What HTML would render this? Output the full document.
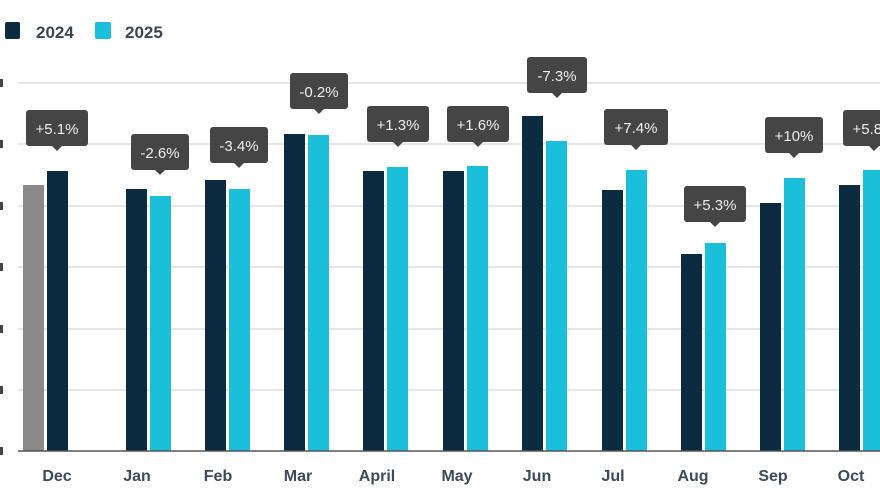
<!DOCTYPE html>
<html><head><meta charset="utf-8"><style>
body{margin:0;background:#fff;width:880px;height:495px;overflow:hidden}
svg{display:block;font-family:"Liberation Sans",sans-serif}
</style></head><body>
<svg width="880" height="495" viewBox="0 0 880 495">
<rect x="5" y="22" width="15" height="17" rx="2" fill="#0d2b40"/>
<text x="36" y="38" font-size="17" fill="#3a4652" font-weight="bold">2024</text>
<rect x="95" y="22" width="16" height="17" rx="2" fill="#1cbfd9"/>
<text x="125" y="38" font-size="17" fill="#3a4652" font-weight="bold">2025</text>
<g stroke="#dedede" stroke-width="1.5">
<line x1="18" y1="83" x2="880" y2="83"/><line x1="18" y1="144" x2="880" y2="144"/>
<line x1="18" y1="206" x2="880" y2="206"/><line x1="18" y1="267" x2="880" y2="267"/>
<line x1="18" y1="329" x2="880" y2="329"/><line x1="18" y1="390" x2="880" y2="390"/>
</g>
<g fill="#444">
<rect x="0" y="79" width="3" height="8"/><rect x="0" y="140" width="3" height="8"/><rect x="0" y="202" width="3" height="8"/><rect x="0" y="263" width="3" height="8"/><rect x="0" y="325" width="3" height="8"/><rect x="0" y="386" width="3" height="8"/><rect x="0" y="447" width="3" height="8"/>
</g>
<rect x="23" y="185" width="21" height="266" fill="#8a8a8a"/>
<g fill="#0d2b40">
<rect x="47" y="171" width="21" height="280"/>
<rect x="126" y="189" width="21" height="262"/>
<rect x="205" y="180" width="21" height="271"/>
<rect x="284" y="134" width="21" height="317"/>
<rect x="363" y="171" width="21" height="280"/>
<rect x="443" y="171" width="21" height="280"/>
<rect x="522" y="116" width="21" height="335"/>
<rect x="602" y="190" width="21" height="261"/>
<rect x="681" y="254" width="21" height="197"/>
<rect x="760" y="203" width="21" height="248"/>
<rect x="839" y="185" width="21" height="266"/>
</g>
<g fill="#1cbfd9">
<rect x="150" y="196" width="21" height="255"/>
<rect x="229" y="189" width="21" height="262"/>
<rect x="308" y="135" width="21" height="316"/>
<rect x="387" y="167" width="21" height="284"/>
<rect x="467" y="166" width="21" height="285"/>
<rect x="546" y="141" width="21" height="310"/>
<rect x="626" y="170" width="21" height="281"/>
<rect x="705" y="243" width="21" height="208"/>
<rect x="784" y="178" width="21" height="273"/>
<rect x="863" y="170" width="21" height="281"/>
</g>
<line x1="18" y1="451" x2="880" y2="451" stroke="#555" stroke-width="1.5"/>
<g font-size="16" fill="#3d4a57" text-anchor="middle" font-weight="bold">
<text x="57" y="481">Dec</text><text x="137" y="481">Jan</text><text x="218" y="481">Feb</text>
<text x="298" y="481">Mar</text><text x="377" y="481">April</text><text x="457" y="481">May</text>
<text x="537" y="481">Jun</text><text x="613" y="481">Jul</text><text x="693" y="481">Aug</text>
<text x="773" y="481">Sep</text><text x="851" y="481">Oct</text>
</g>
<g font-size="15" fill="#eeeeee" text-anchor="middle">
<g transform="translate(57,110)"><rect x="-31" y="0" width="62" height="36" rx="3" fill="#454545"/><path d="M-5 36 L0 41 L5 36Z" fill="#454545"/><text x="0" y="24">+5.1%</text></g>
<g transform="translate(160,134)"><rect x="-29" y="0" width="58" height="36" rx="3" fill="#454545"/><path d="M-5 36 L0 41 L5 36Z" fill="#454545"/><text x="0" y="24">-2.6%</text></g>
<g transform="translate(239,127)"><rect x="-29" y="0" width="58" height="36" rx="3" fill="#454545"/><path d="M-5 36 L0 41 L5 36Z" fill="#454545"/><text x="0" y="24">-3.4%</text></g>
<g transform="translate(319,73)"><rect x="-29" y="0" width="58" height="36" rx="3" fill="#454545"/><path d="M-5 36 L0 41 L5 36Z" fill="#454545"/><text x="0" y="24">-0.2%</text></g>
<g transform="translate(398,106)"><rect x="-31" y="0" width="62" height="36" rx="3" fill="#454545"/><path d="M-5 36 L0 41 L5 36Z" fill="#454545"/><text x="0" y="24">+1.3%</text></g>
<g transform="translate(478,106)"><rect x="-31" y="0" width="62" height="36" rx="3" fill="#454545"/><path d="M-5 36 L0 41 L5 36Z" fill="#454545"/><text x="0" y="24">+1.6%</text></g>
<g transform="translate(557,57)"><rect x="-30" y="0" width="60" height="36" rx="3" fill="#454545"/><path d="M-5 36 L0 41 L5 36Z" fill="#454545"/><text x="0" y="24">-7.3%</text></g>
<g transform="translate(636,109)"><rect x="-32" y="0" width="64" height="36" rx="3" fill="#454545"/><path d="M-5 36 L0 41 L5 36Z" fill="#454545"/><text x="0" y="24">+7.4%</text></g>
<g transform="translate(715,186)"><rect x="-31" y="0" width="62" height="36" rx="3" fill="#454545"/><path d="M-5 36 L0 41 L5 36Z" fill="#454545"/><text x="0" y="24">+5.3%</text></g>
<g transform="translate(794,117)"><rect x="-29" y="0" width="58" height="36" rx="3" fill="#454545"/><path d="M-5 36 L0 41 L5 36Z" fill="#454545"/><text x="0" y="24">+10%</text></g>
<g transform="translate(874,110)"><rect x="-31" y="0" width="62" height="36" rx="3" fill="#454545"/><path d="M-5 36 L0 41 L5 36Z" fill="#454545"/><text x="0" y="24">+5.8%</text></g>
</g>
</svg>
</body></html>
